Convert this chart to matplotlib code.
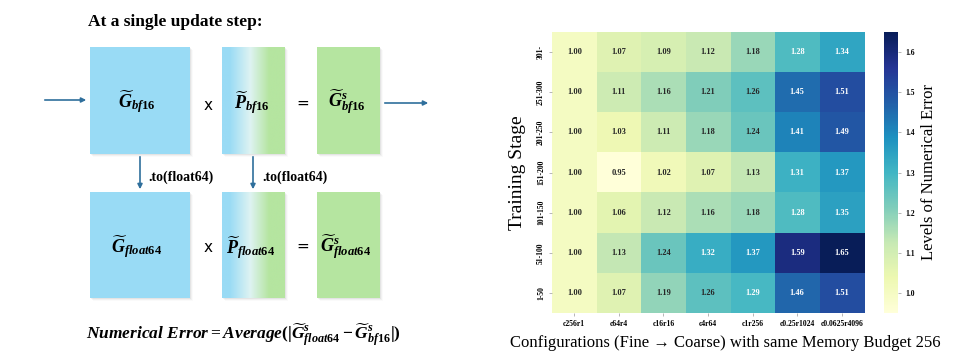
import numpy as np
import matplotlib.pyplot as plt
from matplotlib.patches import Rectangle
from matplotlib.colors import LinearSegmentedColormap

plt.rcParams['font.family'] = ['Liberation Serif', 'DejaVu Serif']
plt.rcParams['mathtext.fontset'] = 'custom'
plt.rcParams['mathtext.rm'] = 'Liberation Serif:bold'
plt.rcParams['mathtext.it'] = 'Liberation Serif:bold:italic'
plt.rcParams['mathtext.bf'] = 'Liberation Serif:bold'

# heatmap data
stages = ['301-', '251-300', '201-250', '151-200', '101-150', '51-100', '1-50']
configs = ['c256r1', 'c64r4', 'c16r16', 'c4r64', 'c1r256', 'c0.25r1024', 'c0.0625r4096']
errors = np.array([
    [1.00, 1.07, 1.09, 1.12, 1.18, 1.28, 1.34],
    [1.00, 1.11, 1.16, 1.21, 1.26, 1.45, 1.51],
    [1.00, 1.03, 1.11, 1.18, 1.24, 1.41, 1.49],
    [1.00, 0.95, 1.02, 1.07, 1.13, 1.31, 1.37],
    [1.00, 1.06, 1.12, 1.16, 1.18, 1.28, 1.35],
    [1.00, 1.13, 1.24, 1.32, 1.37, 1.59, 1.65],
    [1.00, 1.07, 1.19, 1.26, 1.29, 1.46, 1.51],
])
cbar_ticks = [1.0, 1.1, 1.2, 1.3, 1.4, 1.5, 1.6]

W, H = 971, 361
fig = plt.figure(figsize=(W / 100, H / 100), dpi=100)

# ---- left: diagram in pixel coordinates ----
dax = fig.add_axes([0, 0, 1, 1])
dax.set_xlim(0, W)
dax.set_ylim(H, 0)
dax.axis('off')

blue = '#99dbf5'
green = '#b5e5a0'
arrow_c = '#2f6f9c'
grad = LinearSegmentedColormap.from_list(
    'pgrad', [(0, blue), (0.12, blue), (0.45, '#def3f2'), (0.75, green), (1, green)])


def box(x0, y0, x1, y1, color=None, gradient=False):
    # soft drop shadow
    for i, a in enumerate([0.10, 0.07, 0.04]):
        dax.add_patch(Rectangle((x0 + 1 + i, y0 + 1 + i), x1 - x0, y1 - y0,
                                color='gray', alpha=a, lw=0, zorder=1))
    if gradient:
        dax.imshow(np.linspace(0, 1, 256)[None, :], cmap=grad, aspect='auto',
                   extent=(x0, x1, y1, y0), zorder=2)
    else:
        dax.add_patch(Rectangle((x0, y0), x1 - x0, y1 - y0, color=color, lw=0, zorder=2))


rows = [(47, 154), (192, 298)]
for (y0, y1) in rows:
    box(90, y0, 190, y1, blue)
    box(222, y0, 285, y1, gradient=True)
    box(317, y0, 380, y1, green)

dax.set_xlim(0, W)
dax.set_ylim(H, 0)

dax.text(88, 22, 'At a single update step:', fontsize=12.5, fontweight='bold',
         ha='left', va='center')

labels = [
    (137, 102, r'$\widetilde{G}_{bf16}$'),
    (252, 103, r'$\widetilde{P}_{bf16}$'),
    (347, 102, r'$\widetilde{G}^{s}_{bf16}$'),
    (137, 247, r'$\widetilde{G}_{float64}$'),
    (251, 248, r'$\widetilde{P}_{float64}$'),
    (346, 247, r'$\widetilde{G}^{s}_{float64}$'),
]
for x, y, s in labels:
    dax.text(x, y, s, fontsize=13, ha='center', va='center', zorder=3)

for y in (105, 248):
    dax.text(208, y, 'x', fontsize=11, ha='center', va='center',
             family='DejaVu Sans')
    dax.text(303, y - 2, '=', fontsize=11, ha='center', va='center',
             family='DejaVu Sans')

akw = dict(arrowstyle='-|>', color=arrow_c, lw=1.2, mutation_scale=7)
dax.annotate('', xy=(89, 100), xytext=(42, 100), arrowprops=akw)
dax.annotate('', xy=(431, 103), xytext=(382, 103), arrowprops=akw)
dax.annotate('', xy=(140, 192), xytext=(140, 154), arrowprops=akw)
dax.annotate('', xy=(253, 192), xytext=(253, 154), arrowprops=akw)
dax.text(148, 177, '.to(float64)', fontsize=10, fontweight='bold', ha='left', va='center')
dax.text(262, 177, '.to(float64)', fontsize=10, fontweight='bold', ha='left', va='center')

dax.text(243, 335,
         r'$Numerical\ Error = Average(|\widetilde{G}^{s}_{float64} - \widetilde{G}^{s}_{bf16}|)$',
         fontsize=12.5, ha='center', va='center')

# ---- right: heatmap ----
ax = fig.add_axes([552 / W, 1 - 313 / H, 312 / W, 281 / H])
im = ax.imshow(errors, cmap='YlGnBu', vmin=0.95, vmax=1.65, aspect='auto')
for i in range(errors.shape[0]):
    for j in range(errors.shape[1]):
        v = errors[i, j]
        ax.text(j, i, f'{v:.2f}', ha='center', va='center', fontsize=6,
                fontweight='bold', color='white' if v >= 1.28 else '#262626')
ax.set_xticks(range(len(configs)))
ax.set_xticklabels(configs, fontsize=5.5, fontweight='bold')
ax.set_yticks(range(len(stages)))
ax.set_yticklabels(stages, fontsize=5.5, fontweight='bold', rotation=90, va='center')
ax.tick_params(length=2, width=0.5, color='#999999', pad=3)
for sp in ax.spines.values():
    sp.set_visible(False)
ax.set_xlabel('Configurations (Fine \u2192 Coarse) with same Memory Budget 256',
              fontsize=12)
ax.xaxis.set_label_coords(0.554, -0.077)
ax.set_ylabel('Training Stage', fontsize=14, labelpad=8)

cax = fig.add_axes([884 / W, 1 - 313 / H, 14 / W, 281 / H])
cb = fig.colorbar(im, cax=cax, ticks=cbar_ticks)
cb.outline.set_visible(False)
cb.ax.tick_params(labelsize=5.5, length=2, width=0.5, color='#999999')
for t in cb.ax.get_yticklabels():
    t.set_fontweight('bold')
cb.set_label('Levels of Numerical Error', fontsize=12, labelpad=4)

fig.savefig('out.png', dpi=100)
